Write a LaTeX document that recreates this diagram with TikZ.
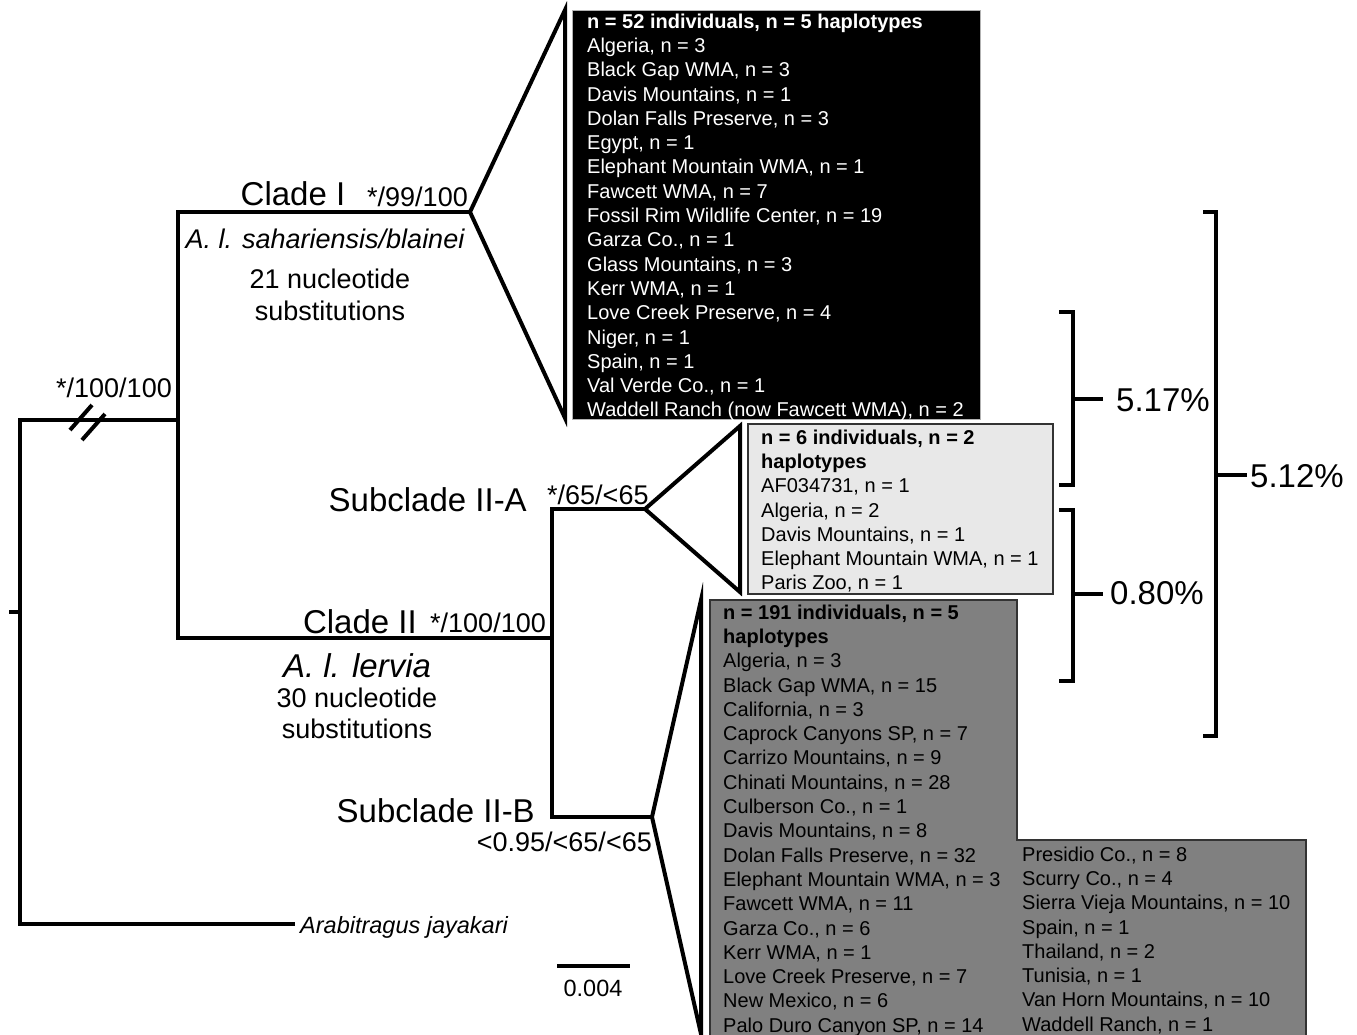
\documentclass[tikz,border=0pt]{standalone}
\usepackage{fontspec}
\setmainfont{Liberation Sans}
\usetikzlibrary{positioning}
\newcommand{\listfont}{\fontsize{20}{24.3}\selectfont}
\tikzset{
  branch/.style={line width=4.5pt, line join=miter},
  wedge/.style={line width=4pt, line join=miter},
  bracket/.style={line width=4pt, line join=miter},
  cladelabel/.style={font=\fontsize{33}{36}\selectfont, inner sep=0pt},
  support/.style={font=\fontsize{27}{32}\selectfont, inner sep=0pt},
  listtext/.style={font=\listfont, align=left, inner sep=0pt, anchor=north west},
  blackbox/.style={fill=black, draw=gray!60, line width=1pt},
  lightbox/.style={fill=gray!18, draw=black!80, line width=1.5pt},
  darkbox/.style={fill=gray, draw=black!80, line width=1.5pt},
}

\begin{document}
\begin{tikzpicture}[x=1pt, y=-1pt]
  \useasboundingbox (0,0) rectangle (1357,1034);
  \clip (0,0) rectangle (1357,1034);

  % tree vertices
  \coordinate (rootL) at (9,612);
  \coordinate (root) at (20,612);
  \coordinate (inTop) at (20,420);
  \coordinate (outB) at (20,924);
  \coordinate (outE) at (295,924);
  \coordinate (nI) at (178,420);
  \coordinate (cI) at (178,212);
  \coordinate (cII) at (178,638);
  \coordinate (tI) at (470,212);
  \coordinate (nII) at (552,638);
  \coordinate (sA) at (552,509);
  \coordinate (sB) at (552,817);
  \coordinate (tA) at (645,509);
  \coordinate (tB) at (652,817);

  % boxes
  \draw[blackbox] (572,10) rectangle (980,419);
  \draw[lightbox] (748,424) rectangle (1053,594);
  \draw[darkbox] (710,600) -- (1017,600) -- (1017,840) -- (1306,840) -- (1306,1040) -- (710,1040) -- cycle;

  % branches
  \draw[branch] (rootL) -- (root);
  \draw[branch] (nI) -- (inTop) -- (outB) -- (outE);
  \draw[branch] (tI) -- (cI) -- (cII) -- (nII);
  \draw[branch] (tA) -- (sA) -- (sB) -- (tB);
  \draw[line width=4pt] (70,430) -- (92,405);
  \draw[line width=4pt] (82,440) -- (105,414);

  % collapsed clades
  \draw[wedge] (tI) -- (565,10) -- (565,418) -- cycle;
  \draw[wedge] (tA) -- (740,426) -- (740,592) -- cycle;
  \draw[wedge] (tB) -- (701,600) -- (701,1034) -- cycle;

  % labels on the tree
  \node[cladelabel, anchor=base] (cladeI) at (293,205) {Clade I};
  \node[support, anchor=base west] (suppI) at (367,206) {*/99/100};
  \node[support, anchor=base, font=\fontsize{27}{32}\selectfont\itshape] (taxI) at (325,248) {A. l. sahariensis/blainei};
  \node[support, align=center, anchor=north] (subsI) at (330,268.5) {21 nucleotide\\substitutions};
  \node[support, anchor=base] (suppIn) at (114,397) {*/100/100};

  \node[cladelabel, anchor=base east] (cladeII) at (417,633) {Clade II};
  \node[support, anchor=base west] (suppII) at (430,632) {*/100/100};
  \node[cladelabel, anchor=base, font=\fontsize{33}{36}\selectfont\itshape] (taxII) at (357,677) {A. l. lervia};
  \node[support, align=center, anchor=north, font=\fontsize{27}{31}\selectfont] (subsII) at (357,688) {30 nucleotide\\substitutions};

  \node[cladelabel, anchor=base east] (subA) at (527,511) {Subclade II-A};
  \node[support, anchor=base west] (suppA) at (547,504) {*/65/<65};
  \node[cladelabel, anchor=base east] (subB) at (535,822) {Subclade II-B};
  \node[support, anchor=base east] (suppB) at (652,851) {<0.95/<65/<65};

  \node[inner sep=0pt, anchor=base west, font=\fontsize{23.5}{26}\selectfont\itshape] (outg) at (300,933) {Arabitragus jayakari};

  % scale bar
  \coordinate (barL) at (557,966);
  \coordinate (barR) at (630,966);
  \draw[line width=4pt] (barL) -- (barR);
  \node[inner sep=0pt, anchor=base, font=\fontsize{23.5}{26}\selectfont] (barlab) at (593,996) {0.004};

  % haplotype lists
  \node[listtext, text=white] (listI) at (587,13.4) {\textbf{n = 52 individuals, n = 5 haplotypes}\\
    Algeria, n = 3\\ Black Gap WMA, n = 3\\ Davis Mountains, n = 1\\ Dolan Falls Preserve, n = 3\\
    Egypt, n = 1\\ Elephant Mountain WMA, n = 1\\ Fawcett WMA, n = 7\\ Fossil Rim Wildlife Center, n = 19\\
    Garza Co., n = 1\\ Glass Mountains, n = 3\\ Kerr WMA, n = 1\\ Love Creek Preserve, n = 4\\
    Niger, n = 1\\ Spain, n = 1\\ Val Verde Co., n = 1\\ Waddell Ranch (now Fawcett WMA), n = 2};
  \node[listtext] (listA) at (761,429.4) {\textbf{n = 6 individuals, n = 2}\\ \textbf{haplotypes}\\
    AF034731, n = 1\\ Algeria, n = 2\\ Davis Mountains, n = 1\\ Elephant Mountain WMA, n = 1\\ Paris Zoo, n = 1};
  \node[listtext] (listB) at (723,604.4) {\textbf{n = 191 individuals, n = 5}\\ \textbf{haplotypes}\\
    Algeria, n = 3\\ Black Gap WMA, n = 15\\ California, n = 3\\ Caprock Canyons SP, n = 7\\
    Carrizo Mountains, n = 9\\ Chinati Mountains, n = 28\\ Culberson Co., n = 1\\ Davis Mountains, n = 8\\
    Dolan Falls Preserve, n = 32\\ Elephant Mountain WMA, n = 3\\ Fawcett WMA, n = 11\\ Garza Co., n = 6\\
    Kerr WMA, n = 1\\ Love Creek Preserve, n = 7\\ New Mexico, n = 6\\ Palo Duro Canyon SP, n = 14};
  \node[listtext] (listB2) at (1022,846.4) {Presidio Co., n = 8\\ Scurry Co., n = 4\\ Sierra Vieja Mountains, n = 10\\
    Spain, n = 1\\ Thailand, n = 2\\ Tunisia, n = 1\\ Van Horn Mountains, n = 10\\ Waddell Ranch, n = 1};

  % divergence brackets
  \draw[bracket] (1059,312) -- (1073,312) -- (1073,485) -- (1059,485);
  \draw[bracket] (1073,399) -- (1103,399);
  \node[cladelabel, anchor=west] (dI) at (1116,400) {5.17\%};
  \draw[bracket] (1059,510) -- (1073,510) -- (1073,681) -- (1059,681);
  \draw[bracket] (1073,594) -- (1103,594);
  \node[cladelabel, anchor=west] (dII) at (1110,593) {0.80\%};
  \draw[bracket] (1203,212) -- (1216,212) -- (1216,736) -- (1203,736);
  \draw[bracket] (1216,475) -- (1247,475);
  \node[cladelabel, anchor=west] (dAll) at (1250,476) {5.12\%};
\end{tikzpicture}
\end{document}
